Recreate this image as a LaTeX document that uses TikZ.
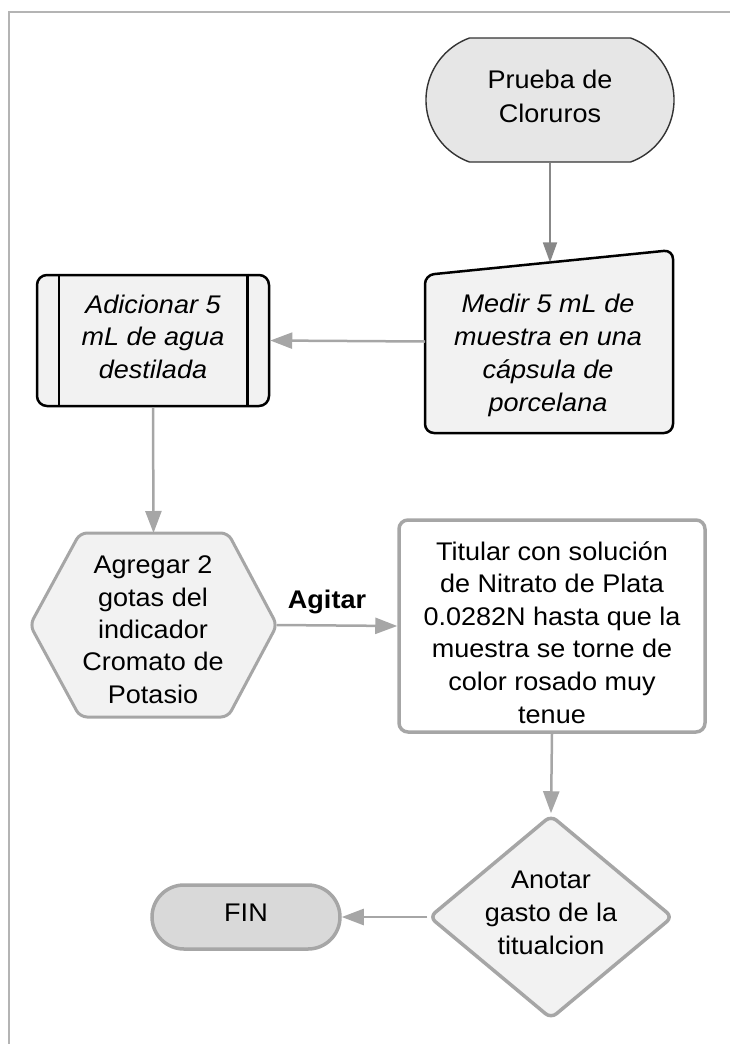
\documentclass[tikz,border=0pt]{standalone}
\usepackage{fontspec}
\setmainfont{Liberation Sans}[FakeStretch=1.06]
\usetikzlibrary{arrows.meta,shapes.misc,shapes.geometric}
\definecolor{arrgray}{HTML}{A6A6A6}
\definecolor{darkarr}{HTML}{888888}
\definecolor{boxfill}{HTML}{F2F2F2}
\definecolor{startfill}{HTML}{E6E6E6}
\definecolor{finfill}{HTML}{D9D9D9}
\definecolor{framegray}{HTML}{B4B4B4}
\tikzset{
  holder/.style={draw=none,inner sep=0pt,outer sep=0pt},
  txt/.style={align=center,inner sep=0pt,anchor=base,font=\fontsize{25.5}{32.8}\selectfont},
  flow/.style={draw=arrgray,line width=2.5pt,-{Triangle[length=22pt,width=16pt]}},
  darkflow/.style={draw=darkarr,line width=1.8pt,-{Triangle[length=20pt,width=14pt]}},
}
\begin{document}
\begin{tikzpicture}[x=1pt,y=-1pt]
\useasboundingbox (0,0) rectangle (730,1044);
% frame
\draw[framegray,line width=1.5pt] (9,1044) -- (9,12) -- (730,12);

% start terminator
\node[rounded rectangle,rounded rectangle arc length=140,draw=black!80,line width=1.4pt,fill=startfill,
      minimum width=248pt,minimum height=124pt,inner sep=0pt] (start) at (550,100) {};
\node[txt,font=\fontsize{25.5}{34}\selectfont] (starttext) at (550,122) {Prueba de\\Cloruros};

% manual input
\node[holder,minimum width=248pt,minimum height=183pt] (medir) at (549,341.5) {};
\draw[black,line width=2.5pt,fill=boxfill,rounded corners=9pt]
  (medir.south) -- (medir.south west) -- ([yshift=-25pt]medir.north west) -- (medir.north east)
  -- (medir.south east) -- cycle;
\coordinate (medirtop) at (550,262.4);
\node[txt,font=\fontsize{25.5}{33}\selectfont\itshape] (medirtext) at (548,411)
  {Medir 5 mL de\\muestra en una\\cápsula de\\porcelana};

% predefined process
\node[draw=black,line width=2.5pt,fill=boxfill,rounded corners=10pt,
      minimum width=232pt,minimum height=131pt,inner sep=0pt] (adic) at (153,340.5) {};
\draw[black,line width=2.5pt] ([xshift=23pt]adic.north west) -- ([xshift=23pt]adic.south west);
\draw[black,line width=2.5pt] ([xshift=-23pt]adic.north east) -- ([xshift=-23pt]adic.south east);
\node[txt,font=\fontsize{25.5}{32.5}\selectfont\itshape] (adictext) at (153,378)
  {Adicionar 5\\mL de agua\\destilada};

% hexagon
\node[holder,minimum width=247pt,minimum height=184pt] (agregar) at (153.5,625) {};
\draw[arrgray,line width=3pt,fill=boxfill,rounded corners=7pt]
  (agregar.north) -- ([xshift=-49pt]agregar.north east) -- (agregar.east)
  -- ([xshift=-49pt]agregar.south east) -- ([xshift=50pt]agregar.south west)
  -- (agregar.west) -- ([xshift=50pt]agregar.north west) -- cycle;
\node[txt,font=\fontsize{25.5}{32.3}\selectfont] (agregartext) at (153,703)
  {Agregar 2\\gotas del\\indicador\\Cromato de\\Potasio};

% process box
\node[draw=arrgray,line width=3.5pt,fill=white,rounded corners=9pt,
      minimum width=306pt,minimum height=212pt,inner sep=0pt] (titular) at (552,626) {};
\node[txt,font=\fontsize{25.5}{32.6}\selectfont] (titulartext) at (552,723)
  {Titular con solución\\de Nitrato de Plata\\0.0282N hasta que la\\muestra se torne de\\color rosado muy\\tenue};

% decision
\node[diamond,draw=arrgray,line width=3.5pt,fill=boxfill,rounded corners=7pt,
      minimum width=244pt,minimum height=204pt,inner sep=0pt] (anotar) at (551,917) {};
\node[txt,font=\fontsize{25.5}{33}\selectfont] (anotartext) at (551,954) {Anotar\\gasto de la\\titualcion};

% end terminator
\node[rounded rectangle,draw=arrgray,line width=3.5pt,fill=finfill,
      minimum width=188pt,minimum height=64pt,inner sep=0pt] (fin) at (246,917) {};
\node[txt] (fintext) at (246,921) {FIN};

% connectors
\draw[darkflow] (start.south) -- (medirtop);
\draw[flow] (medir.west) -- (adic.east);
\draw[flow] (adic.south) -- (agregar.north);
\draw[flow] (agregar.east) -- (titular.west);
\node[txt,font=\fontsize{25.5}{32.8}\selectfont\bfseries] (agitar) at (327,608) {Agitar};
\draw[flow] (titular.south) -- (anotar.north);
\draw[flow] (anotar.west) -- (fin.east);
\end{tikzpicture}
\end{document}
